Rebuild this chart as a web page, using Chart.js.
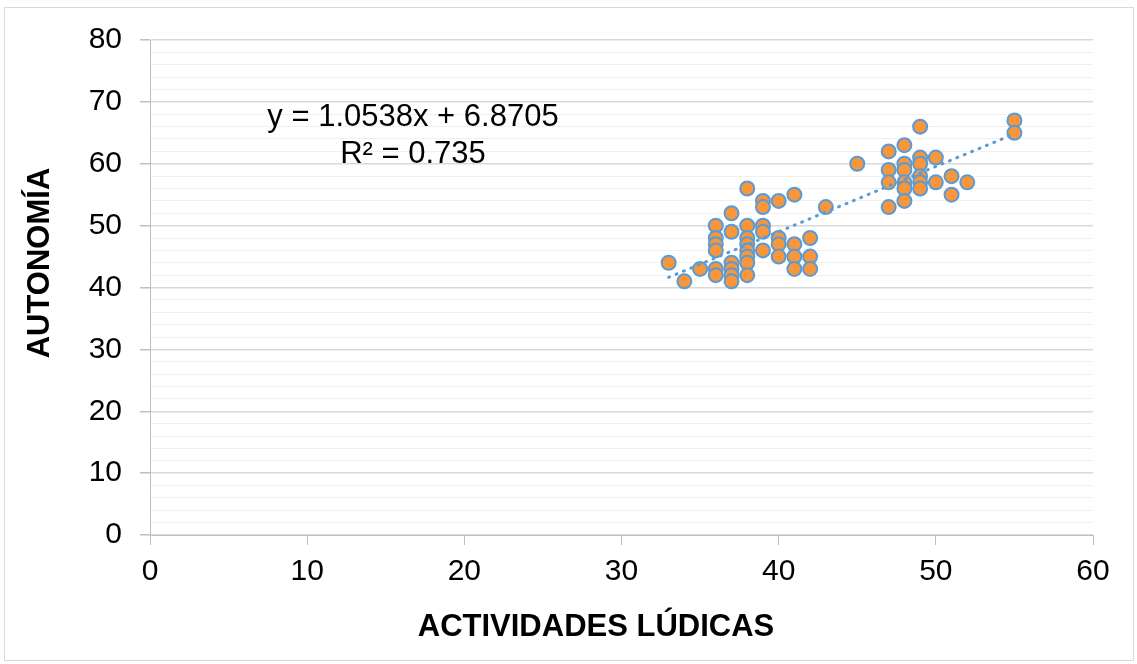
<!DOCTYPE html>
<html>
<head>
<meta charset="utf-8">
<script src="https://cdn.jsdelivr.net/npm/chart.js@4.4.1/dist/chart.umd.min.js"></script>
<style>
  html, body { margin: 0; padding: 0; background: #fff; }
  #wrap { width: 1137px; height: 664px; }
</style>
</head>
<body>
<div id="wrap"><canvas id="scatter" width="1137" height="664"></canvas></div>
<script>
// Actividades lúdicas (x) vs Autonomía (y)
const actividades = [
  33, 34, 35,
  36, 36, 36, 36, 36, 36,
  37, 37, 37, 37, 37, 37,
  38, 38, 38, 38, 38, 38, 38, 38,
  39, 39, 39, 39, 39,
  40, 40, 40, 40,
  41, 41, 41, 41,
  42, 42, 42,
  43, 45,
  47, 47, 47, 47,
  48, 48, 48, 48, 48, 48,
  49, 49, 49, 49, 49, 49,
  50, 50, 51, 51, 52, 55, 55
];
const autonomia = [
  44, 41, 43,
  50, 48, 47, 46, 43, 42,
  52, 49, 44, 43, 42, 41,
  56, 50, 48, 47, 46, 45, 44, 42,
  54, 53, 50, 49, 46,
  54, 48, 47, 45,
  55, 47, 45, 43,
  48, 45, 43,
  53, 60,
  62, 59, 57, 53,
  63, 60, 59, 57, 56, 54,
  66, 61, 60, 58, 57, 56,
  61, 57, 58, 55, 57, 67, 65
];

// trendline as printed on the chart
const slope = 1.0538;
const intercept = 6.8705;
const equationText = ['y = 1.0538x + 6.8705', 'R² = 0.735'];
const xTitle = 'ACTIVIDADES LÚDICAS';
const yTitle = 'AUTONOMÍA';

const points = actividades.map((x, i) => ({ x: x, y: autonomia[i] }));
const xMin = Math.min(...actividades);
const xMax = Math.max(...actividades);
const trend = [
  { x: xMin, y: slope * xMin + intercept },
  { x: xMax, y: slope * xMax + intercept }
];

const FONT = '"Liberation Sans", Arial, sans-serif';

// draws the frame, the axis titles and the equation box
const decorations = {
  id: 'decorations',
  afterDraw(chart) {
    const ctx = chart.ctx;
    ctx.save();
    ctx.strokeStyle = '#d9d9d9';
    ctx.lineWidth = 1;
    ctx.strokeRect(4.5, 7.5, 1129, 653);

    ctx.fillStyle = '#000';
    ctx.textAlign = 'center';
    ctx.textBaseline = 'middle';
    ctx.font = 'bold 31px ' + FONT;
    ctx.fillText(xTitle, 596, 627);

    ctx.translate(40, 263);
    ctx.rotate(-Math.PI / 2);
    ctx.fillText(yTitle, 0, 0);
    ctx.restore();

    ctx.save();
    ctx.fillStyle = '#000';
    ctx.textAlign = 'center';
    ctx.textBaseline = 'middle';
    ctx.font = '31px ' + FONT;
    ctx.fillText(equationText[0], 413, 117);
    ctx.fillText(equationText[1], 413, 154);
    ctx.restore();
  }
};

new Chart(document.getElementById('scatter'), {
  type: 'scatter',
  data: {
    datasets: [{
      label: 'Tendencia',
      type: 'line',
      data: trend,
      borderColor: '#5B9BD5',
      borderWidth: 3,
      borderDash: [1, 7],
      borderCapStyle: 'round',
      pointRadius: 0,
      fill: false,
      order: 0
    }, {
      label: 'Autonomía',
      data: points,
      backgroundColor: '#F7963A',
      borderColor: '#5B9BD5',
      borderWidth: 2,
      pointRadius: 7,
      order: 1
    }]
  },
  options: {
    responsive: false,
    animation: false,
    layout: { padding: { top: 40, right: 44, left: 0, bottom: 0 } },
    plugins: {
      legend: { display: false },
      tooltip: { enabled: false }
    },
    scales: {
      x: {
        type: 'linear',
        min: 0, max: 60,
        afterFit: (s) => { s.height = 129; },
        border: { color: '#bfbfbf', width: 1 },
        grid: { drawOnChartArea: false, tickLength: 10, color: '#bfbfbf' },
        ticks: { stepSize: 10, padding: 9, color: '#000', font: { family: FONT, size: 30 } }
      },
      y: {
        min: 0, max: 80,
        afterFit: (s) => { s.width = 150; },
        border: { color: '#bfbfbf', width: 1 },
        grid: {
          tickLength: 10,
          color: (c) => c.tick.value % 10 === 0 ? '#d9d9d9' : '#f0f0f0',
          tickColor: (c) => c.tick.value % 10 === 0 ? '#bfbfbf' : 'rgba(0,0,0,0)',
          lineWidth: (c) => c.tick.value % 10 === 0 ? 1.5 : 1
        },
        ticks: {
          stepSize: 2,
          autoSkip: false,
          padding: 18,
          color: '#000',
          font: { family: FONT, size: 30 },
          callback: (v) => v % 10 === 0 ? v : ''
        }
      }
    }
  },
  plugins: [decorations]
});
</script>
</body>
</html>
